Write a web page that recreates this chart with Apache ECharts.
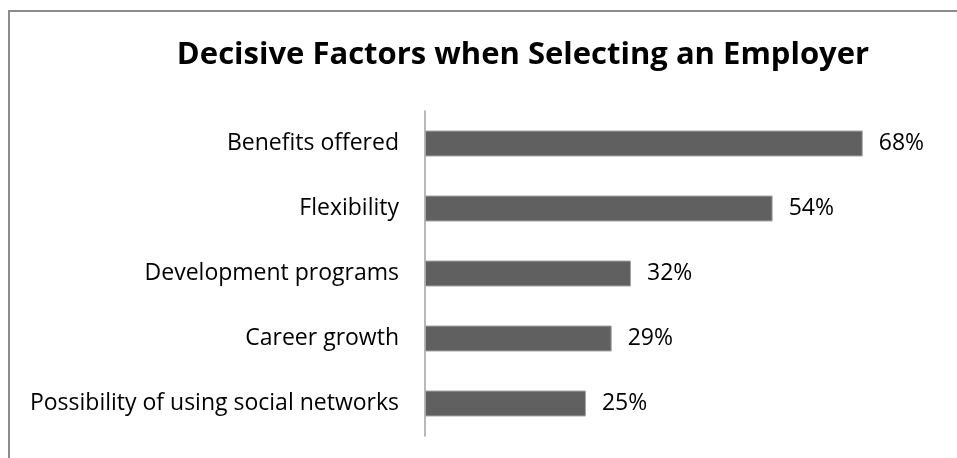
<!DOCTYPE html>
<html>
<head>
<meta charset="utf-8">
<script src="https://cdn.jsdelivr.net/npm/echarts@6/dist/echarts.min.js"></script>
<style>
	html, body { margin: 0; padding: 0; background: #fff; overflow: hidden; }
	#chart { width: 957px; height: 458px; }
</style>
</head>
<body>
<div id="chart"></div>
<script>
	var categories = ['Benefits offered', 'Flexibility', 'Development programs', 'Career growth', 'Possibility of using social networks'];
	var shares = [68, 54, 32, 29, 25];

	var chart = echarts.init(document.getElementById('chart'));
	var option = {
		animation: false,
		title: {
			text: 'Decisive Factors when Selecting an Employer',
			left: 518,
			top: 35,
			textAlign: 'center',
			textStyle: {
				fontFamily: 'Open Sans',
				fontWeight: 'bold',
				fontSize: 31,
				color: '#000'
			}
		},
		graphic: [{
			type: 'rect',
			shape: { x: 9, y: 11, width: 1000, height: 500 },
			style: { fill: 'none', stroke: '#8c8c8c', lineWidth: 2 },
			silent: true
		}],
		grid: {
			left: 425,
			top: 111,
			right: 17,
			bottom: 22
		},
		xAxis: {
			type: 'value',
			min: 0,
			max: 80,
			show: false
		},
		yAxis: {
			type: 'category',
			inverse: true,
			data: categories,
			axisLine: { lineStyle: { color: '#a0a0a0', width: 1.5 } },
			axisTick: { show: false },
			axisLabel: {
				margin: 26,
				color: '#000',
				fontFamily: 'Open Sans',
				fontSize: 23
			}
		},
		series: [{
			type: 'bar',
			data: shares,
			barWidth: 26,
			itemStyle: {
				color: '#606060',
				borderColor: '#a6a6a6',
				borderWidth: 1
			},
			label: {
				show: true,
				position: 'right',
				distance: 16,
				formatter: '{c}%',
				color: '#000',
				fontFamily: 'Open Sans',
				fontSize: 23
			}
		}]
	};
	chart.setOption(option);
</script>
</body>
</html>
